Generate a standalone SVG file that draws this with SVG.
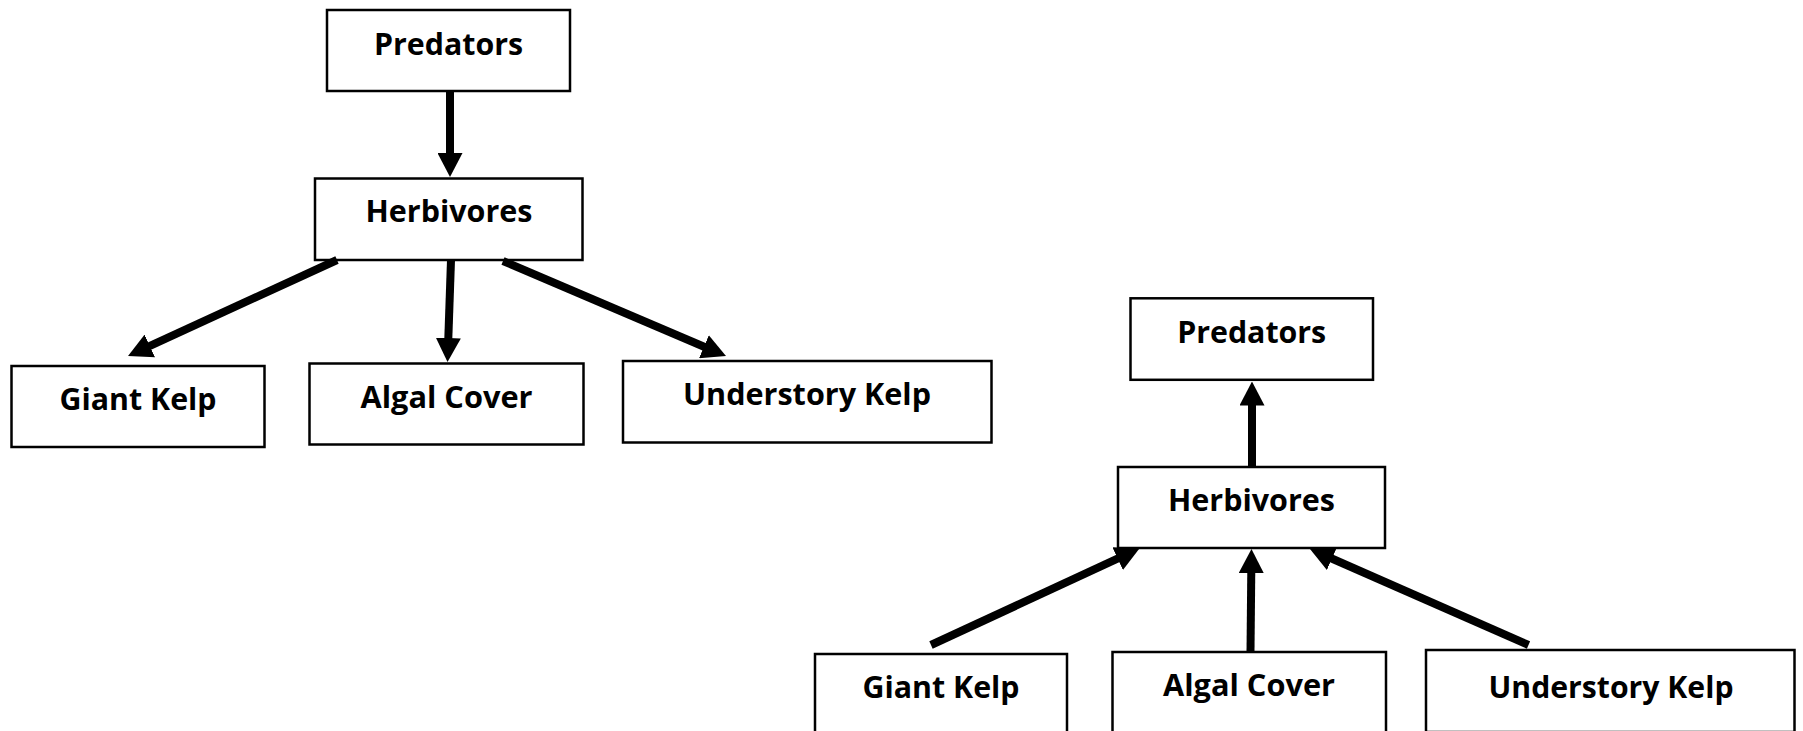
<svg xmlns="http://www.w3.org/2000/svg" width="1803" height="731" viewBox="0 0 1803 731">
  <style>
    .box { fill: #ffffff; stroke: #000000; stroke-width: 2.5; }
    .label { font-family: "Open Sans", Lato, "Liberation Sans", sans-serif; font-weight: 700; font-size: 31px; fill: #000000; text-anchor: middle; }
    .link { fill: none; stroke: #000000; stroke-width: 8; stroke-linecap: butt; marker-end: url(#head); }
  </style>
  <defs>
    <marker id="head" viewBox="0 0 24 25" refX="4" refY="12.5" markerWidth="24" markerHeight="25" markerUnits="userSpaceOnUse" orient="auto">
      <path d="M0,0 L24,12.5 L0,25 Z" fill="#000000"/>
    </marker>
  </defs>
  <rect width="1803" height="731" fill="#ffffff"/>

  <!-- Top-down web: predators control herbivores, herbivores control producers -->
  <g id="top-predators">
    <rect class="box" x="327" y="10" width="243" height="81"/>
    <text class="label" x="448.5" y="55" textLength="149" lengthAdjust="spacingAndGlyphs">Predators</text>
  </g>
  <g id="top-herbivores">
    <rect class="box" x="315" y="178.5" width="267.5" height="81.5"/>
    <text class="label" x="449" y="221.7" textLength="167" lengthAdjust="spacingAndGlyphs">Herbivores</text>
  </g>
  <g id="top-giant-kelp">
    <rect class="box" x="11.5" y="366" width="253" height="81"/>
    <text class="label" x="138" y="410" textLength="157" lengthAdjust="spacingAndGlyphs">Giant Kelp</text>
  </g>
  <g id="top-algal-cover">
    <rect class="box" x="309.5" y="363.5" width="274" height="81"/>
    <text class="label" x="446.5" y="407.5" textLength="172" lengthAdjust="spacingAndGlyphs">Algal Cover</text>
  </g>
  <g id="top-understory-kelp">
    <rect class="box" x="623" y="361" width="368.5" height="81.5"/>
    <text class="label" x="807" y="405" textLength="248" lengthAdjust="spacingAndGlyphs">Understory Kelp</text>
  </g>

  <!-- Bottom-up web: producers support herbivores, herbivores support predators -->
  <g id="bottom-predators">
    <rect class="box" x="1130.5" y="298.3" width="242.5" height="81.5"/>
    <text class="label" x="1251.7" y="343.3" textLength="149" lengthAdjust="spacingAndGlyphs">Predators</text>
  </g>
  <g id="bottom-herbivores">
    <rect class="box" x="1118" y="467" width="267" height="81"/>
    <text class="label" x="1251.5" y="511" textLength="167" lengthAdjust="spacingAndGlyphs">Herbivores</text>
  </g>
  <g id="bottom-giant-kelp">
    <rect class="box" x="815" y="654" width="252" height="82"/>
    <text class="label" x="941" y="697.5" textLength="157" lengthAdjust="spacingAndGlyphs">Giant Kelp</text>
  </g>
  <g id="bottom-algal-cover">
    <rect class="box" x="1112.5" y="652" width="273.5" height="82"/>
    <text class="label" x="1249" y="696" textLength="172" lengthAdjust="spacingAndGlyphs">Algal Cover</text>
  </g>
  <g id="bottom-understory-kelp">
    <rect class="box" x="1426" y="650" width="368.5" height="82"/>
    <text class="label" x="1611" y="698" textLength="245" lengthAdjust="spacingAndGlyphs">Understory Kelp</text>
  </g>

  <g id="connectors">
    <path class="link" d="M450,91 L450,157"/>
    <path class="link" d="M337,260 L146.2,347.6"/>
    <path class="link" d="M451,260 L448.2,342"/>
    <path class="link" d="M503,261 L707.6,348.2"/>
    <path class="link" d="M1252,466.7 L1252,401.5"/>
    <path class="link" d="M931,645 L1121.3,556.9"/>
    <path class="link" d="M1250.5,652 L1251.3,569"/>
    <path class="link" d="M1528.5,645 L1328.3,557"/>
  </g>
</svg>
